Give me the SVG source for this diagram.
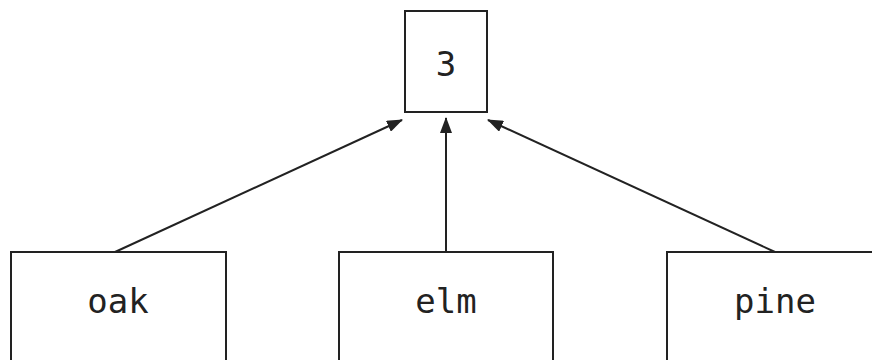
<svg xmlns="http://www.w3.org/2000/svg" width="872" height="360" viewBox="0 0 872 360">
<style>
.box{fill:#fff;stroke:#222;stroke-width:2}
.lbl{font-family:"DejaVu Sans Mono","Liberation Mono",monospace;font-size:34px;fill:#222;text-anchor:middle}
.edge{stroke:#222;stroke-width:2;fill:none}
</style>
<defs>
<marker id="arr" markerWidth="16" markerHeight="12" refX="15" refY="6" orient="auto" markerUnits="userSpaceOnUse">
<path d="M0,0 L16,6 L0,12 Z" fill="#222"/>
</marker>
</defs>
<rect width="872" height="360" fill="#fff"/>
<g id="connectors">
<line class="edge" x1="115" y1="252" x2="402" y2="120" marker-end="url(#arr)"/>
<line class="edge" x1="446" y1="252" x2="446" y2="118" marker-end="url(#arr)"/>
<line class="edge" x1="775" y1="252" x2="488" y2="120" marker-end="url(#arr)"/>
</g>
<g id="node-3">
<rect class="box" x="405" y="11" width="82" height="101"/>
<text class="lbl" x="446" y="76">3</text>
</g>
<g id="node-oak">
<rect class="box" x="11" y="252" width="215" height="120"/>
<text class="lbl" x="118" y="313">oak</text>
</g>
<g id="node-elm">
<rect class="box" x="339" y="252" width="214" height="120"/>
<text class="lbl" x="446" y="313">elm</text>
</g>
<g id="node-pine">
<rect class="box" x="667" y="252" width="216" height="120"/>
<text class="lbl" x="775" y="313">pine</text>
</g>
</svg>
